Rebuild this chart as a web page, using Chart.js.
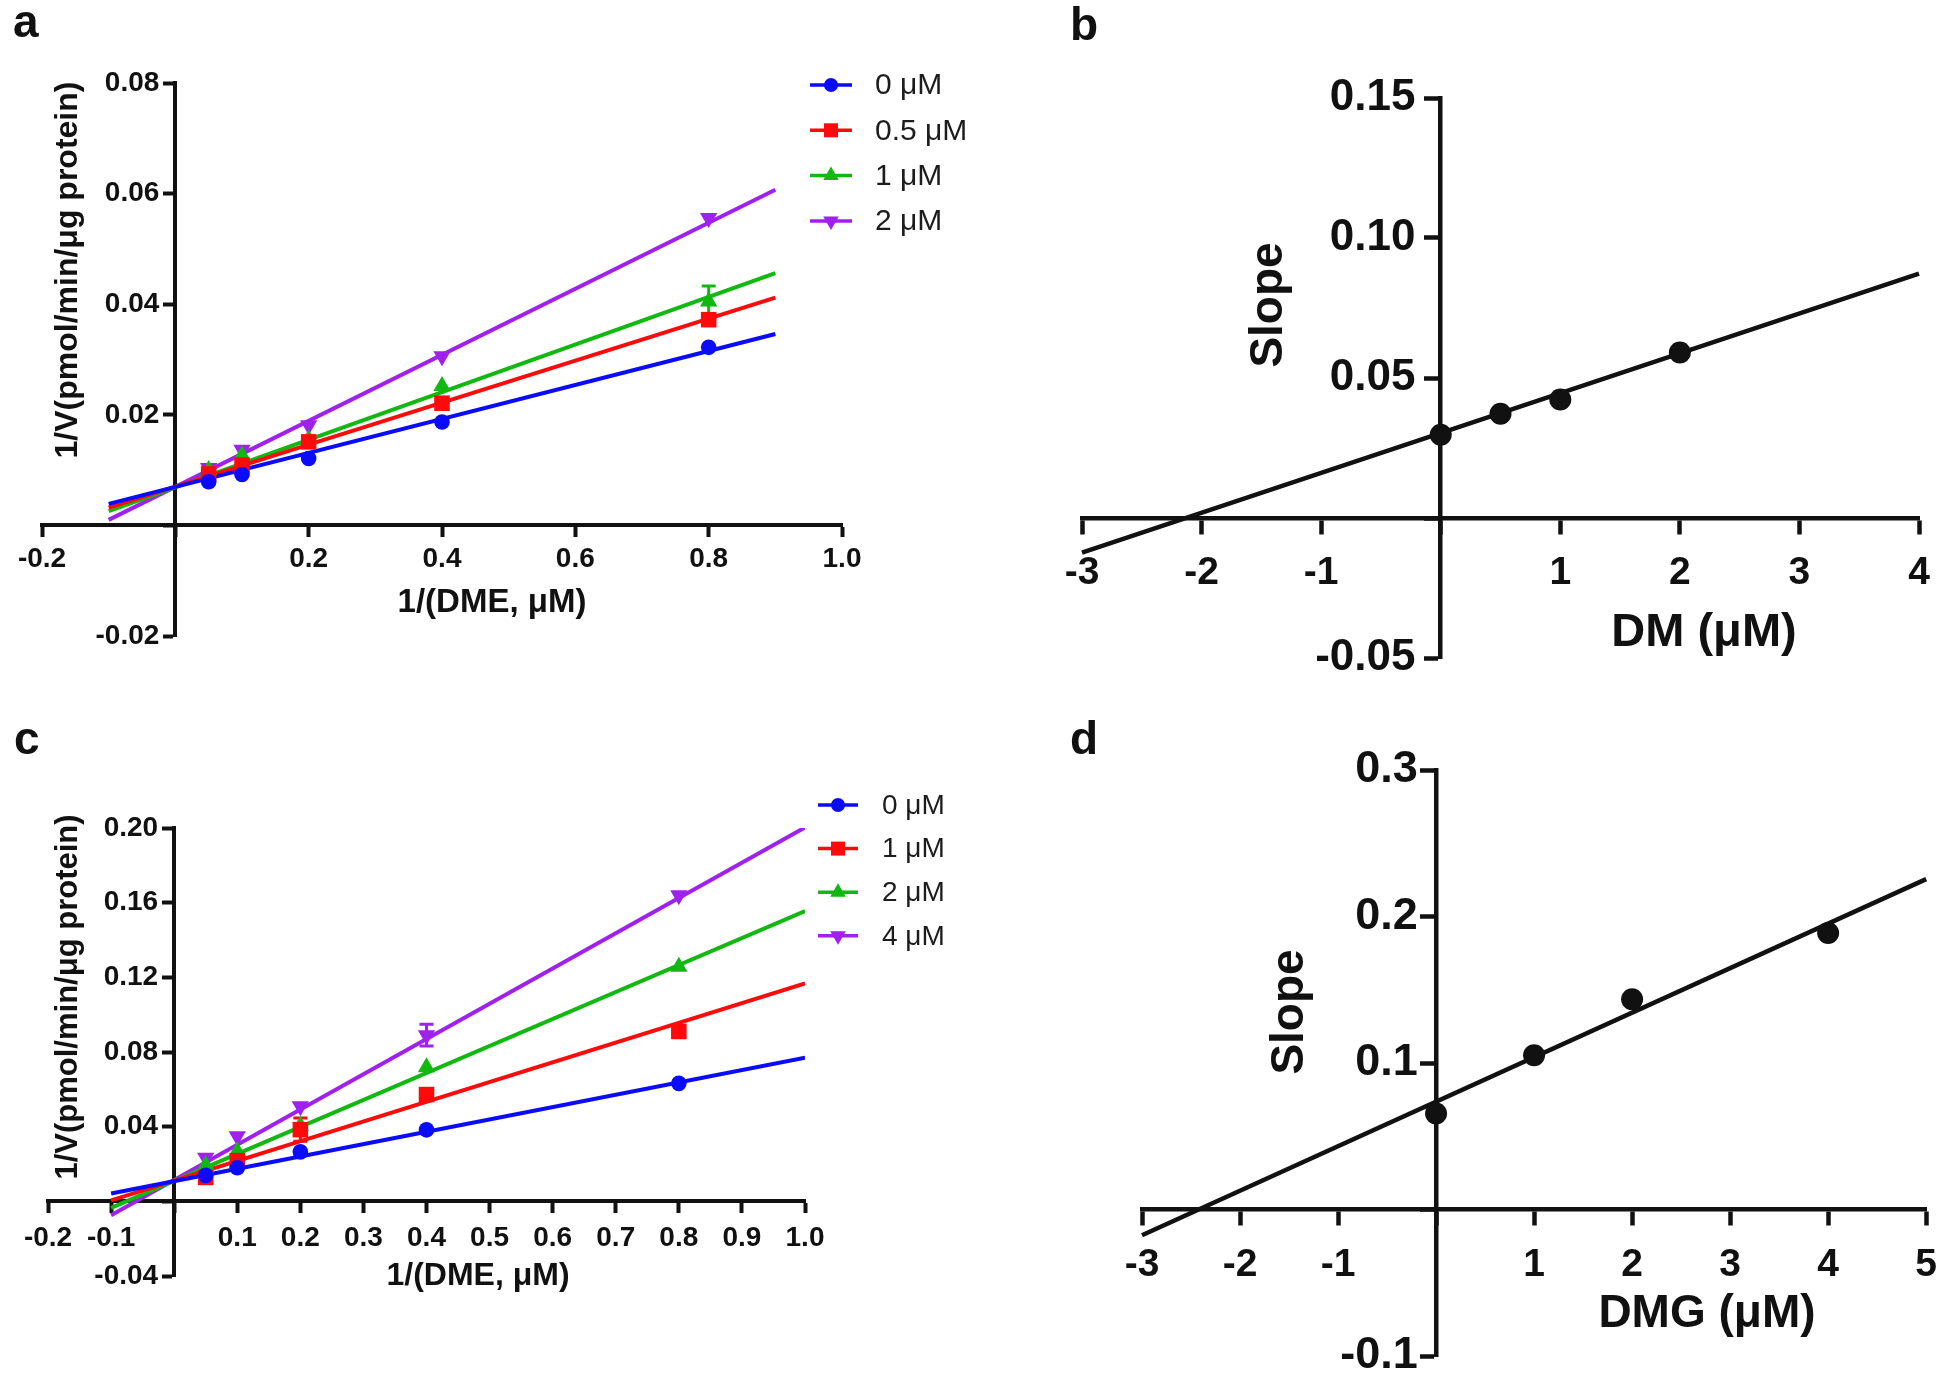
<!DOCTYPE html>
<html><head><meta charset="utf-8">
<script src="https://cdn.jsdelivr.net/npm/chart.js@4.4.1/dist/chart.umd.min.js"></script>
<style>
html,body{margin:0;padding:0;background:#fff;}
body{width:1955px;height:1387px;position:relative;overflow:hidden;}
canvas{position:absolute;}
</style></head><body>
<canvas id="ca" width="1000" height="700" style="left:0;top:0"></canvas>
<canvas id="cb" width="955" height="700" style="left:1000px;top:0"></canvas>
<canvas id="cc" width="1000" height="687" style="left:0;top:700px"></canvas>
<canvas id="cd" width="955" height="687" style="left:1000px;top:700px"></canvas>
<script>
// ---------- DATA ----------
// Panel a: Lineweaver-Burk, DM inhibitor
const xA = [0.05, 0.1, 0.2, 0.4, 0.8];
const labelsA = ['0 μM', '0.5 μM', '1 μM', '2 μM'];
const a0 = [0.0079, 0.0092, 0.0121, 0.0187, 0.0322];
const a05 = [0.0093, 0.0109, 0.0151, 0.0221, 0.0372];
const a1 = [0.0100, 0.0127, 0.0156, 0.0252, 0.0405];
const a2 = [0.0104, 0.0137, 0.0181, 0.0306, 0.0556];
const errA1 = [0, 0, 0, 0, 0.0028];
const fitXA = [-0.1, 0.9];
const fitA0 = [0.0039, 0.0346];
const fitA05 = [0.0032, 0.0412];
const fitA1 = [0.0026, 0.0456];
const fitA2 = [0.0010, 0.0607];

// Panel b: secondary plot, DM
const xB = [0, 0.5, 1, 2];
const slopeB = [0.0297, 0.0372, 0.0423, 0.0591];
const fitXB = [-3, 4];
const fitB = [-0.0124, 0.0873];

// Panel c: Lineweaver-Burk, DMG inhibitor
const xC = [0.05, 0.1, 0.2, 0.4, 0.8];
const labelsC = ['0 μM', '1 μM', '2 μM', '4 μM'];
const c0 = [0.0139, 0.0180, 0.0265, 0.0383, 0.0632];
const c1 = [0.0128, 0.0218, 0.0384, 0.0572, 0.0910];
const c2 = [0.0195, 0.0268, 0.0405, 0.0718, 0.1257];
const c4 = [0.0234, 0.0349, 0.0510, 0.0890, 0.1640];
const errC1 = [0, 0, 0.0062, 0, 0];
const errC4 = [0, 0, 0, 0.0058, 0];
const fitXC = [-0.1, 1.0];
const fitC0 = [0.0042, 0.0770];
const fitC1 = [0.0005, 0.1167];
const fitC2 = [-0.0035, 0.1555];
const fitC4 = [-0.0075, 0.2003];

// Panel d: secondary plot, DMG
const xD = [0, 1, 2, 4];
const slopeD = [0.0655, 0.1053, 0.1435, 0.1887];
const fitXD = [-3, 5];
const fitD = [-0.0176, 0.2255];

// ---------- STYLE ----------
const FONT = "'Liberation Sans', Arial, Helvetica, sans-serif";
const INK = '#111111';
const BLUE = '#0a0aff', RED = '#ff0a0a', GREEN = '#10b810', PURPLE = '#a020f0';
const STYLES = [
  {color: BLUE, pointStyle: 'circle', rotation: 0, radius: 7.8},
  {color: RED, pointStyle: 'rect', rotation: 0, radius: 11},
  {color: GREEN, pointStyle: 'triangle', rotation: 0, radius: 10},
  {color: PURPLE, pointStyle: 'triangle', rotation: 180, radius: 10}
];

const toXY = (xs, ys) => xs.map((x, i) => ({x: x, y: ys[i]}));

// ---------- PLUGINS ----------
const panelText = {
  id: 'panelText',
  afterDraw(chart, args, opts) {
    const ctx = chart.ctx;
    (opts.items || []).forEach(it => {
      ctx.save();
      ctx.font = it.font;
      ctx.fillStyle = it.color || INK;
      ctx.textAlign = it.align || 'center';
      ctx.textBaseline = it.baseline || 'middle';
      ctx.translate(it.x, it.y);
      if (it.rotate) ctx.rotate(it.rotate * Math.PI / 180);
      ctx.fillText(it.text, 0, 0);
      ctx.restore();
    });
  }
};

// y axis placed at x=0: move its labels to the left of the tick marks
const crossAxisLabels = {
  id: 'crossAxisLabels',
  afterUpdate(chart) {
    const s = chart.scales.y;
    if (!s || s._crossPatched) return;
    const orig = s.drawLabels;
    s.drawLabels = function (area) {
      const o = this.options;
      const dx = -(o.grid.tickLength + o.ticks.padding + o.border.width / 2);
      this.ctx.save();
      this.ctx.translate(dx, 0);
      orig.call(this, area);
      this.ctx.restore();
    };
    s._crossPatched = true;
  }
};

const errorBars = {
  id: 'errorBars',
  beforeDatasetsDraw(chart) {
    const ctx = chart.ctx;
    const ys = chart.scales.y;
    chart.data.datasets.forEach((ds, i) => {
      if (!ds.errors) return;
      const meta = chart.getDatasetMeta(i);
      ctx.save();
      ctx.strokeStyle = ds.borderColor;
      ctx.lineWidth = 3;
      meta.data.forEach((pt, j) => {
        const e = ds.errors[j];
        if (!e) return;
        const v = ds.data[j].y;
        const yt = ys.getPixelForValue(v + e), yb = ys.getPixelForValue(v - e);
        ctx.beginPath();
        ctx.moveTo(pt.x, yt); ctx.lineTo(pt.x, yb);
        ctx.moveTo(pt.x - 7, yt); ctx.lineTo(pt.x + 7, yt);
        ctx.moveTo(pt.x - 7, yb); ctx.lineTo(pt.x + 7, yb);
        ctx.stroke();
      });
      ctx.restore();
    });
  }
};

const seriesLegend = {
  id: 'seriesLegend',
  afterDraw(chart, args, opts) {
    if (!opts || !opts.display) return;
    const ctx = chart.ctx;
    let row = 0;
    chart.data.datasets.forEach(ds => {
      if (!ds.inLegend) return;
      const y = opts.y + row * opts.spacing;
      ctx.save();
      ctx.strokeStyle = ds.borderColor;
      ctx.lineWidth = 3.5;
      ctx.beginPath();
      ctx.moveTo(opts.lineX1, y); ctx.lineTo(opts.lineX2, y);
      ctx.stroke();
      ctx.fillStyle = ds.backgroundColor;
      Chart.helpers.drawPoint(ctx, {
        pointStyle: ds.pointStyle, rotation: ds.pointRotation || 0,
        radius: ds.pointRadius * 0.9, borderWidth: 0
      }, (opts.lineX1 + opts.lineX2) / 2, y);
      ctx.fillStyle = '#1c1c1c';
      ctx.font = opts.font;
      ctx.textAlign = 'left';
      ctx.textBaseline = 'middle';
      ctx.fillText(ds.label, opts.textX, y + 1);
      ctx.restore();
      row++;
    });
  }
};

Chart.register(panelText, crossAxisLabels, errorBars, seriesLegend);

// ---------- BUILDERS ----------
function axis(min, max, step, dec, size, tickLen, width, pad, pos) {
  return {
    type: 'linear', min: min, max: max, position: pos,
    ticks: {
      stepSize: step, autoSkip: false, maxRotation: 0, minRotation: 0,
      padding: pad, color: INK,
      font: {family: FONT, size: size, weight: 'bold'},
      callback: v => Math.abs(v) < 1e-9 ? '' : Number(v).toFixed(dec)
    },
    grid: {drawOnChartArea: false, drawTicks: true, tickLength: tickLen,
           tickWidth: width, tickColor: INK},
    border: {display: true, color: INK, width: width}
  };
}

function kineticsChart(id, xs, seriesYs, labels, fitX, fits, errs, cfg) {
  const datasets = [];
  seriesYs.forEach((ys, k) => {
    const st = STYLES[k];
    datasets.push({
      label: labels[k], inLegend: true, data: toXY(xs, ys),
      showLine: false, backgroundColor: st.color, borderColor: st.color,
      pointStyle: st.pointStyle, pointRotation: st.rotation,
      pointRadius: st.radius, pointBorderWidth: 0, pointHoverRadius: st.radius,
      errors: errs[k] || null, order: 0, clip: false
    });
  });
  fits.forEach((fy, k) => {
    const st = STYLES[k];
    datasets.push({
      label: '', data: toXY(fitX, fy), showLine: true, borderColor: st.color,
      backgroundColor: st.color, borderWidth: 4, pointRadius: 0, order: 1
    });
  });
  return new Chart(document.getElementById(id), {
    type: 'scatter',
    data: {datasets: datasets},
    options: {
      responsive: false, animation: false, devicePixelRatio: 1,
      layout: {padding: cfg.padding},
      scales: {x: cfg.x, y: cfg.y},
      plugins: {
        legend: {display: false}, tooltip: {enabled: false}, title: {display: false},
        seriesLegend: cfg.legend,
        panelText: {items: cfg.texts}
      }
    }
  });
}

function slopeChart(id, xs, ys, fitX, fy, cfg) {
  return new Chart(document.getElementById(id), {
    type: 'scatter',
    data: {datasets: [
      {label: 'Slope', data: toXY(xs, ys), showLine: false, backgroundColor: INK,
       borderColor: INK, pointStyle: 'circle', pointRadius: 11, pointBorderWidth: 0,
       order: 0, clip: false},
      {label: 'fit', data: toXY(fitX, fy), showLine: true, borderColor: INK,
       borderWidth: 4.5, pointRadius: 0, order: 1, clip: false}
    ]},
    options: {
      responsive: false, animation: false, devicePixelRatio: 1,
      layout: {padding: cfg.padding},
      scales: {x: cfg.x, y: cfg.y},
      plugins: {
        legend: {display: false}, tooltip: {enabled: false}, title: {display: false},
        panelText: {items: cfg.texts}
      }
    }
  });
}

const bold = s => 'bold ' + s + 'px ' + FONT;

// Panel a
kineticsChart('ca', xA, [a0, a05, a1, a2], labelsA, fitXA,
  [fitA0, fitA05, fitA1, fitA2], [null, null, errA1, null], {
  padding: {left: 42, right: 158, top: 83, bottom: 64},
  x: axis(-0.2, 1.0, 0.2, 1, 28, 10, 4, 7, {y: 0}),
  y: axis(-0.02, 0.08, 0.02, 2, 28, 10, 4, 4, {x: 0}),
  legend: {display: true, y: 85, spacing: 45.3, lineX1: 810, lineX2: 852,
           textX: 875, font: '30px ' + FONT},
  texts: [
    {text: 'a', x: 13, y: 37, font: bold(46), align: 'left', baseline: 'alphabetic'},
    {text: '1/V(pmol/min/μg protein)', x: 68, y: 270, rotate: -90, font: bold(32)},
    {text: '1/(DME, μM)', x: 492, y: 603, font: bold(33)}
  ]
});

// Panel b
slopeChart('cb', xB, slopeB, fitXB, fitB, {
  padding: {left: 82, right: 36, top: 98, bottom: 42},
  x: axis(-3, 4, 1, 0, 39, 14, 4.5, 18, {y: 0}),
  y: axis(-0.05, 0.15, 0.05, 2, 44, 14, 4.5, 9, {x: 0}),
  texts: [
    {text: 'b', x: 70, y: 40, font: bold(46), align: 'left', baseline: 'alphabetic'},
    {text: 'Slope', x: 269, y: 305, rotate: -90, font: bold(46)},
    {text: 'DM (μM)', x: 704, y: 633, font: bold(47)}
  ]
});

// Panel c
kineticsChart('cc', xC, [c0, c1, c2, c4], labelsC, fitXC,
  [fitC0, fitC1, fitC2, fitC4], [null, errC1, null, errC4], {
  padding: {left: 48, right: 195, top: 128, bottom: 111},
  x: axis(-0.2, 1.0, 0.1, 1, 28, 10, 4, 10, {y: 0}),
  y: axis(-0.04, 0.20, 0.04, 2, 28, 10, 4, 4, {x: 0}),
  legend: {display: true, y: 105, spacing: 43.6, lineX1: 818, lineX2: 858,
           textX: 882, font: '28px ' + FONT},
  texts: [
    {text: 'c', x: 14, y: 54, font: bold(46), align: 'left', baseline: 'alphabetic'},
    {text: '1/V(pmol/min/μg protein)', x: 68, y: 297, rotate: -90, font: bold(31)},
    {text: '1/(DME, μM)', x: 478, y: 576, font: bold(32)}
  ]
});

// Panel d
slopeChart('cd', xD, slopeD, fitXD, fitD, {
  padding: {left: 142, right: 26, top: 70, bottom: 31},
  x: axis(-3, 5, 1, 0, 39, 14, 4.5, 18, {y: 0}),
  y: axis(-0.1, 0.3, 0.1, 1, 45, 14, 4.5, 2, {x: 0}),
  texts: [
    {text: 'd', x: 70, y: 54, font: bold(46), align: 'left', baseline: 'alphabetic'},
    {text: 'Slope', x: 290, y: 312, rotate: -90, font: bold(46)},
    {text: 'DMG (μM)', x: 707, y: 614, font: bold(46)}
  ]
});
</script>
</body></html>
